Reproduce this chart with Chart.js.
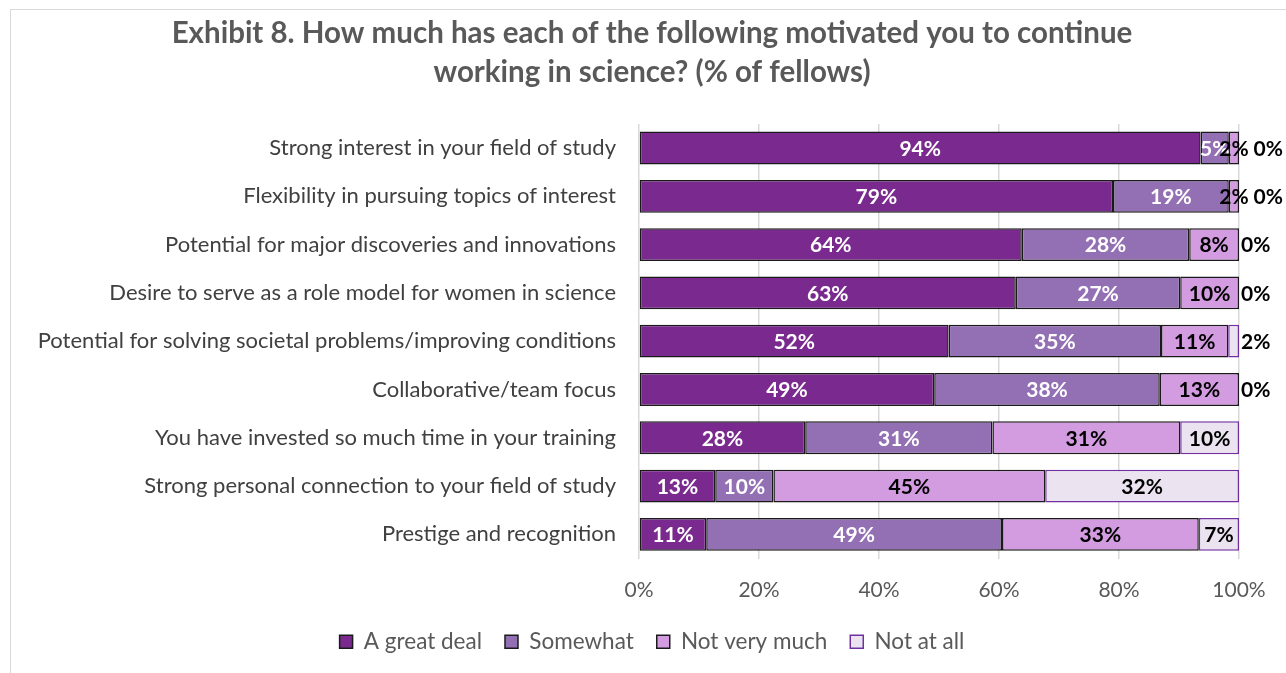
<!DOCTYPE html>
<html>
<head>
<meta charset="utf-8">
<script src="https://cdn.jsdelivr.net/npm/chart.js@4/dist/chart.umd.min.js"></script>
<style>
  body { margin: 0; background: #fff; overflow: hidden; }
  #frame { position: absolute; left: 10px; top: 9px; width: 1400px; height: 800px;
           border-left: 1.5px solid #d9d9d9; border-top: 1.5px solid #d9d9d9; }
  #wrap { position: absolute; left: 0; top: 0; width: 1286px; height: 673px; }
</style>
</head>
<body>
<div id="frame"></div>
<div id="wrap"><canvas id="myChart" width="1286" height="673"></canvas></div>
<script>
const categories = [
  'Strong interest in your field of study',
  'Flexibility in pursuing topics of interest',
  'Potential for major discoveries and innovations',
  'Desire to serve as a role model for women in science',
  'Potential for solving societal problems/improving conditions',
  'Collaborative/team focus',
  'You have invested so much time in your training',
  'Strong personal connection to your field of study',
  'Prestige and recognition',
];
const greatDeal = [93.6, 79.0, 63.8, 62.8, 51.6, 49.2, 27.7, 12.7, 11.2];
const somewhat = [4.7, 19.3, 27.9, 27.4, 35.4, 37.6, 31.2, 9.7, 49.3];
const notVeryMuch = [1.7, 1.7, 8.3, 9.8, 11.2, 13.2, 31.3, 45.3, 32.8];
const notAtAll = [0, 0, 0, 0, 1.8, 0, 9.8, 32.3, 6.7];
const xTicks = [0, 20, 40, 60, 80, 100];

const fontFamily = 'Lato, "Open Sans", sans-serif';

const data = {
  labels: categories,
  datasets: [
    { label: 'A great deal', data: greatDeal, backgroundColor: '#7a2a8e', borderColor: '#1a1a1a', labelColor: '#fff' },
    { label: 'Somewhat', data: somewhat, backgroundColor: '#9370b3', borderColor: '#1a1a1a', labelColor: '#fff' },
    { label: 'Not very much', data: notVeryMuch, backgroundColor: '#d39be0', borderColor: '#1a1a1a', labelColor: '#000' },
    { label: 'Not at all', data: notAtAll, backgroundColor: '#ebe4f0', borderColor: '#7030a0', labelColor: '#000' },
  ],
};
data.datasets.forEach((ds) => {
  ds.borderWidth = 1.5;
  ds.borderSkipped = false;
  ds.barPercentage = 0.68;
  ds.categoryPercentage = 1;
});

// value labels drawn inside / beside each segment
const segmentLabels = {
  id: 'segmentLabels',
  afterDatasetsDraw(chart) {
    const ctx = chart.ctx;
    ctx.save();
    ctx.font = 'bold 21px ' + fontFamily;
    ctx.textBaseline = 'middle';
    const last = chart.data.datasets.length - 1;
    chart.data.labels.forEach((cat, i) => {
      let rightEdge = 0;
      chart.data.datasets.forEach((ds, d) => {
        const bar = chart.getDatasetMeta(d).data[i];
        const v = ds.data[i];
        const txt = Math.round(v) + '%';
        const w = ctx.measureText(txt).width;
        let x;
        if (d === last && v < 4) {
          x = Math.max(bar.x + 2, rightEdge + 5);
          ctx.textAlign = 'left';
          ctx.fillStyle = '#000';
          ctx.fillText(txt, x, bar.y + 1);
          rightEdge = x + w;
          return;
        }
        x = (bar.x + bar.base) / 2;
        ctx.textAlign = 'center';
        ctx.fillStyle = v < 3 ? '#000' : ds.labelColor;
        ctx.fillText(txt, x, bar.y + 1);
        rightEdge = x + w / 2;
      });
    });
    ctx.restore();
  },
};

// let the long category labels and the % ticks spill past their axis boxes
const widenAxes = {
  id: 'widenAxes',
  afterLayout(chart) {
    chart.scales.y.left = 0;
    chart.scales.x.bottom = chart.height;
  },
};

const config = {
  type: 'bar',
  data: data,
  plugins: [segmentLabels, widenAxes],
  options: {
    indexAxis: 'y',
    responsive: false,
    animation: false,
    layout: { padding: { left: 65, right: 47, top: 8, bottom: 10 } },
    scales: {
      x: {
        stacked: true,
        min: 0,
        max: 100,
        afterBuildTicks: (axis) => { axis.ticks = xTicks.map((v) => ({ value: v })); },
        afterFit: (axis) => { axis.height = 49; },
        ticks: {
          callback: (v) => v + '%',
          color: '#595959',
          font: { family: fontFamily, size: 21 },
          padding: 19,
        },
        grid: { color: '#d9d9d9', lineWidth: 1.5, drawTicks: false },
        border: { display: false },
      },
      y: {
        stacked: true,
        afterFit: (axis) => { axis.width = 574; },
        ticks: {
          color: '#404040',
          font: { family: fontFamily, size: 22 },
          padding: 23,
        },
        grid: { display: false, drawTicks: false },
        border: { display: false },
      },
    },
    plugins: {
      title: {
        display: true,
        text: ['Exhibit 8. How much has each of the following motivated you to continue', 'working in science? (% of fellows)'],
        color: '#595959',
        font: { family: fontFamily, size: 29.5, weight: 'bold', lineHeight: 1.32 },
        padding: { top: 6, bottom: 32 },
      },
      legend: {
        position: 'bottom',
        labels: {
          boxWidth: 13,
          boxHeight: 13,
          color: '#595959',
          font: { family: fontFamily, size: 22.5 },
          padding: 23,
        },
      },
      tooltip: { enabled: false },
    },
  },
};

const myChart = new Chart(document.getElementById('myChart'), config);
</script>
</body>
</html>
